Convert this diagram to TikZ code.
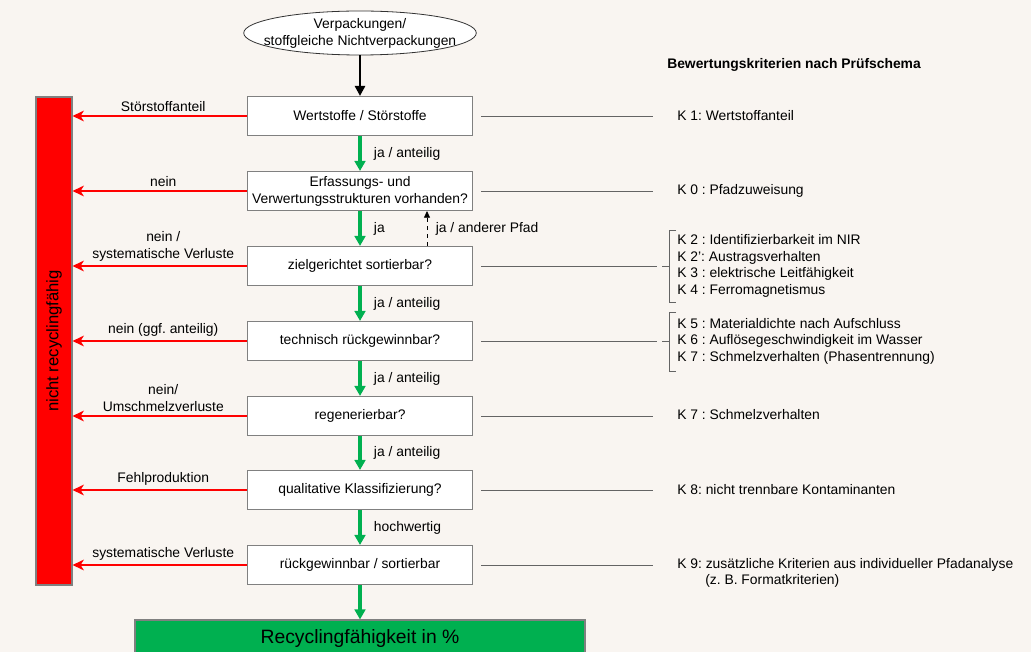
\documentclass[tikz,border=0pt]{standalone}
\usepackage{fontspec}
\setmainfont{Liberation Sans}
\usepackage{tikz}
\usetikzlibrary{shapes.geometric,arrows.meta}
\usepackage{xcolor}
\definecolor{bgbeige}{RGB}{249,245,241}
\definecolor{okgreen}{RGB}{0,176,80}
\definecolor{boxgray}{RGB}{128,128,128}
\definecolor{linegray}{RGB}{100,100,100}
\frenchspacing

\begin{document}
\begin{tikzpicture}[x=0.75pt,y=-0.75pt,
  font=\fontsize{10.4}{12.75}\selectfont,
  stepbox/.style={draw=boxgray, line width=0.8pt, fill=white, minimum width=168.75pt, minimum height=29.25pt, align=center, inner sep=1pt},
  okarrow/.style={draw=okgreen, line width=2.3pt, -{Triangle[length=7.5pt,width=8pt]}},
  noarrow/.style={draw=red, line width=2.2pt, -{Stealth[length=8.5pt,width=8pt,inset=2.5pt]}},
  critline/.style={draw=linegray, line width=0.6pt},
  krit/.style={anchor=west, inner sep=0pt, align=left, font=\fontsize{10.4}{12.4}\selectfont}]
\clip (0,0) rectangle (1031,652);
\fill[bgbeige] (0,0) rectangle (1031,652);

% Eingang
\node[ellipse, draw=black!80, line width=0.6pt, fill=white, minimum width=171pt, minimum height=33pt, align=center, inner xsep=-10.5pt, inner ysep=0pt] (src) at (360,33) {Verpackungen/\\stoffgleiche Nichtverpackungen};

% Pruefschritte
\foreach \name/\y/\txt in {ws/116/{Wertstoffe / Störstoffe}, er/191/{Erfassungs- und\\Verwertungsstrukturen vorhanden?},
    zs/266/{zielgerichtet sortierbar?}, tr/341/{technisch rückgewinnbar?}, rg/416/{regenerierbar?},
    qk/490/{qualitative Klassifizierung?}, rs/565/{rückgewinnbar / sortierbar}} {
  \node[stepbox] (\name) at (360,\y) {\txt};
}
\node[fill=okgreen, draw=boxgray, line width=0.8pt, minimum width=337.5pt, minimum height=27pt, inner sep=0pt, font=\fontsize{14.5}{17}\selectfont] (rf) at (360,638) {Recyclingfähigkeit in \%};

% nicht recyclingfaehig
\node[fill=red, draw=boxgray, line width=0.8pt, minimum width=27pt, minimum height=366pt, inner sep=0pt] (bar) at (54,341) {};
\node[rotate=90, font=\fontsize{12.5}{14}\selectfont] at (bar.center) {nicht recyclingfähig};

\draw[line width=2.2pt, -{Triangle[length=7.5pt,width=7.5pt]}] (src.south) -- (ws.north);

\foreach \a/\b/\txt in {ws/er/{ja / anteilig}, er/zs/ja, zs/tr/{ja / anteilig}, tr/rg/{ja / anteilig},
    rg/qk/{ja / anteilig}, qk/rs/hochwertig} {
  \draw[okarrow] (\a.south) -- node[midway, right=6pt] {\txt} (\b.north);
}
\draw[okarrow] (rs.south) -- (rf.north);

\draw[dashed, line width=0.6pt, -{Triangle[length=5pt,width=4.5pt]}] ([xshift=50.25pt]zs.north) -- node[midway, right=3pt] {ja / anderer Pfad} ([xshift=50.25pt]er.south);

\foreach \name/\txt in {ws/Störstoffanteil, er/nein, zs/{nein /\\systematische Verluste}, tr/{nein (ggf. anteilig)},
    rg/{nein/\\Umschmelzverluste}, qk/Fehlproduktion, rs/{systematische Verluste}} {
  \draw[noarrow] (\name.west) -- node[pos=0.48, above, align=center, inner sep=2pt] {\txt} (\name.west -| bar.east);
}

% Bewertungskriterien
\node[anchor=west, inner sep=0pt, font=\fontsize{10.4}{12}\selectfont\bfseries] (head) at (667,65) {Bewertungskriterien nach Prüfschema};
\node[krit] (k1) at (677,116) {K 1: Wertstoffanteil};
\node[krit] (k0) at (677,191) {K 0 : Pfadzuweisung};
\node[krit] (k2) at (677,266) {K 2 : Identifizierbarkeit im NIR\\K 2': Austragsverhalten\\K 3 : elektrische Leitfähigkeit\\K 4 : Ferromagnetismus};
\node[krit] (k5) at (677,341) {K 5 : Materialdichte nach Aufschluss\\K 6 : Auflösegeschwindigkeit im Wasser\\K 7 : Schmelzverhalten (Phasentrennung)};
\node[krit] (k7) at (677,415) {K 7 : Schmelzverhalten};
\node[krit] (k8) at (677,490) {K 8: nicht trennbare Kontaminanten};
\node[krit] (k9) at (677,573) {K 9: zusätzliche Kriterien aus individueller Pfadanalyse\\\hspace*{21pt}(z. B. Formatkriterien)};

\foreach \name/\k in {ws/k1, er/k0, rg/k7, qk/k8, rs/k9} {
  \draw[critline] ([xshift=6pt]\name.east) -- ([xshift=-18pt]\name.east -| \k.west);
}
\draw[critline] ([xshift=6pt]zs.east) -- ([xshift=-15pt]zs.east -| k2.west);
\draw[critline] ([xshift=6pt]tr.east) -- ([xshift=-15pt]tr.east -| k5.west);
% Klammern
\draw[critline] (676,230) -- (669,230) -- (669,302) -- (676,302) (662,266) -- (669,266);
\draw[critline] (676,312) -- (669,312) -- (669,371) -- (676,371) (662,341) -- (669,341);
\end{tikzpicture}
\end{document}
